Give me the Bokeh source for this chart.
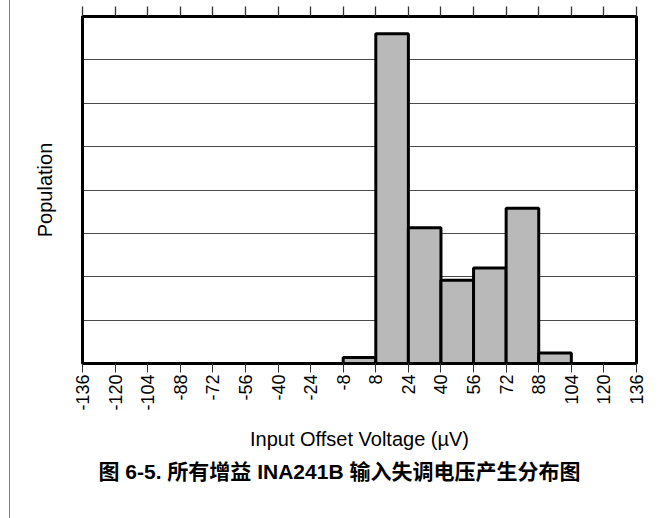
from bokeh.plotting import figure
from bokeh.models import FixedTicker, LinearAxis, Title, Range1d
from bokeh.embed import file_html
from bokeh.resources import INLINE

# ---- data ----
bin_left = [-8, 8, 24, 40, 56, 72, 88]
bin_right = [8, 24, 40, 56, 72, 88, 104]
population = [0.14, 7.6, 3.13, 1.92, 2.2, 3.58, 0.24]

x_ticks = [-136, -120, -104, -88, -72, -56, -40, -24, -8, 8, 24, 40, 56, 72, 88, 104, 120, 136]
x_tick_labels = [str(v) for v in x_ticks]
y_grid = [1, 2, 3, 4, 5, 6, 7]

x_label = "Input Offset Voltage (\u00b5V)"
y_label = "Population"
caption = "图 6-5. 所有增益 INA241B 输入失调电压产生分布图"

FONT = "Liberation Sans, Arial, Noto Sans CJK SC"

p = figure(width=665, height=518, output_backend="svg", toolbar_location=None,
           x_range=Range1d(-136, 136), y_range=Range1d(0, 8),
           min_border_left=82, min_border_right=29, min_border_top=16, min_border_bottom=155,
           x_axis_location="below")
p.border_fill_color = None
p.styles = {"background": "linear-gradient(to right, #ffffff 0px, #ffffff 9px, #808080 9px, #808080 10px, #ffffff 10px, #ffffff 100%)"}

p.quad(left=bin_left, right=bin_right, top=population, bottom=0,
       fill_color="#b9b9b9", line_color="black", line_width=3)

p.background_fill_color = "white"
p.outline_line_color = "black"
p.outline_line_width = 3
p.outline_line_alpha = 1

# x axis below
xa = p.xaxis[0]
xa.ticker = FixedTicker(ticks=x_ticks)
xa.major_label_overrides = {v: s for v, s in zip(x_ticks, x_tick_labels)}
xa.major_label_orientation = 3.14159265 / 2
xa.major_label_text_font = FONT
xa.major_label_text_font_size = "18px"
xa.major_label_text_color = "black"
xa.major_label_standoff = 2
xa.major_tick_out = 9
xa.major_tick_in = 0
xa.major_tick_line_color = "#333333"
xa.minor_tick_line_color = None
xa.axis_line_color = "black"
xa.axis_line_width = 3
xa.axis_label = x_label
xa.axis_label_text_font = FONT
xa.axis_label_text_font_size = "20px"
xa.axis_label_text_font_style = "normal"
xa.axis_label_text_color = "black"
xa.axis_label_standoff = 14

# invisible spacer axis below, pushes the caption down
sp = LinearAxis(ticker=FixedTicker(ticks=[]))
sp.major_tick_out = 21
sp.major_tick_in = 0
sp.major_tick_line_color = None
sp.minor_tick_line_color = None
sp.axis_line_color = None
sp.major_label_standoff = 0
sp.major_label_text_font_size = "1px"
p.add_layout(sp, "below")

# top axis: ticks only
ta = LinearAxis(ticker=FixedTicker(ticks=x_ticks))
ta.major_label_overrides = {v: "" for v in x_ticks}
ta.major_label_text_font_size = "1px"
ta.major_label_standoff = 0
ta.major_tick_out = 10
ta.major_tick_in = 0
ta.major_tick_line_color = "#333333"
ta.major_tick_line_width = 1.3
ta.minor_tick_line_color = None
ta.axis_line_color = "black"
ta.axis_line_width = 3
p.add_layout(ta, "above")

# y axis: label only
ya = p.yaxis[0]
ya.ticker = FixedTicker(ticks=y_grid)
ya.major_label_overrides = {v: "" for v in y_grid}
ya.major_label_standoff = 0
ya.major_tick_line_color = None
ya.minor_tick_line_color = None
ya.axis_line_color = "black"
ya.axis_line_width = 3
ya.axis_label = y_label
ya.axis_label_text_font = FONT
ya.axis_label_text_font_size = "20px"
ya.axis_label_text_font_style = "normal"
ya.axis_label_text_color = "black"
ya.axis_label_standoff = 21

p.xgrid.grid_line_color = None
p.ygrid.ticker = FixedTicker(ticks=y_grid)
p.ygrid.grid_line_color = "#4a4a4a"
p.ygrid.grid_line_width = 1.2

t = Title(text=caption, align="left", offset=16, text_font=FONT, text_font_size="21px",
          text_font_style="bold", text_color="black", standoff=10)
p.add_layout(t, "below")

open("out.html", "w").write(file_html(p, INLINE))
